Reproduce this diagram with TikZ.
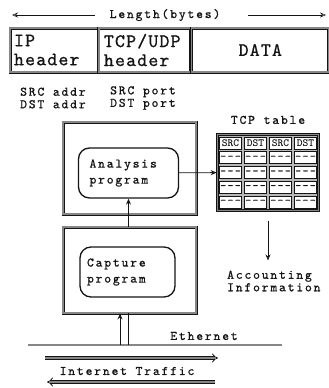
\documentclass[tikz,border=0pt]{standalone}
\usepackage{fontspec}
\newfontfamily\typer{lmmono10-regular.otf}[LetterSpace=14, FakeBold=0.8]
\newfontfamily\typewide{lmmono10-regular.otf}[LetterSpace=6, FakeBold=0.8]
\newfontfamily\typebold{lmmonolt10-bold.otf}
\usepackage{xcolor}
\definecolor{ink}{RGB}{20,20,20}
\definecolor{halftone}{RGB}{95,95,95}
\usepackage{tikz}
\usetikzlibrary{arrows.meta, positioning, fit, backgrounds}

\tikzset{
  txt/.style={inner sep=0pt, font=\typer\fontsize{13}{12.5}\selectfont, text=ink, align=left},
  frame/.style={draw=ink, line width=0.9pt, double=halftone!75, double distance=1.2pt},
  pkt/.style={frame, minimum height=44, inner ysep=0pt, font=\typewide\fontsize{19}{19}\selectfont, text=ink},
  prog/.style={draw=ink, line width=1.3pt, rounded corners=11pt, minimum height=50, align=left, font=\typer\fontsize{13}{16}\selectfont, text=ink},
  cell/.style={draw=ink, line width=0.6pt, fill=white, minimum width=22, minimum height=12, inner sep=0pt, font=\typebold\fontsize{11}{11}\selectfont, text=ink},
  openarrow/.style={draw=ink, line width=0.8pt, -{Stealth[open, length=6pt, width=5pt]}},
  traffic/.style={draw=ink, line width=0.8pt, double=halftone!75, double distance=2.2pt, -{Implies}}
}

\begin{document}
\begin{tikzpicture}[x=1pt, y=-1pt, node distance=0pt]
  \useasboundingbox (0,0) rectangle (329,388);

  % packet
  \node[txt] (len) at (165,15) {Length(bytes)};
  \coordinate (lenL) at (12,15);
  \coordinate (lenR) at (326,15);
  \draw[openarrow, line width=0.6pt] (len.west) ++(-15,0) -- (lenL);
  \draw[openarrow, line width=0.6pt] (len.east) ++(28,0) -- (lenR);

  \node[pkt, minimum width=88, text width=80, inner xsep=4, align=left] (ip) at (54,50) {IP\\header};
  \node[pkt, minimum width=92, text width=82, inner xsep=5, align=left, right=of ip] (tcpudp) {TCP/UDP\\header};
  \node[pkt, minimum width=137, right=of tcpudp] (data) {DATA};

  \node[txt, anchor=west] (addr) at (20,98) {SRC addr\\DST addr};
  \node[txt, anchor=west] (port) at (110,98) {SRC port\\DST port};

  % analysis and capture
  \node[frame, minimum width=133, minimum height=92] (anabox) at (129.5,168) {};
  \node[prog, text width=78, inner xsep=11] (ana) at (128.5,173) {Analysis\\program};
  \node[frame, minimum width=133, minimum height=86] (capbox) at (129.5,270) {};
  \node[prog, text width=81, inner xsep=7] (cap) at (127.5,272) {Capture\\program};
  \draw[openarrow] (ana.south |- capbox.north) -- (ana.south);

  % tcp table
  \foreach \c/\h in {1/SRC,2/DST,3/SRC,4/DST}{
    \node[cell] (c1\c) at ({218+(\c-0.5)*25},143) {\h};
    \foreach \r in {2,...,5}
      \node[cell, font=\typer\fontsize{11}{11}\selectfont] (c\r\c) at ({218+(\c-0.5)*25},{143+(\r-1)*14.7}) {-{}-{}-};
  }
  \begin{scope}[on background layer]
    \node[frame, fill=halftone!45, fit=(c11)(c54), inner sep=2pt] (tcptab) {};
  \end{scope}
  \node[txt, above=10pt of tcptab] (tcplbl) {TCP table};
  \draw[openarrow] (ana) -- (tcptab);

  \node[txt, anchor=west] (acct) at (227,281) {Accounting\\Information};
  \draw[openarrow, shorten <=10pt, shorten >=10pt] (tcptab.south) -- (tcptab.south |- acct.north);

  % ethernet
  \coordinate (ethL) at (28,345);
  \coordinate (ethR) at (282,345);
  \draw[draw=ink, line width=0.8pt, double=halftone!75, double distance=1.2pt] (ethL) -- (ethR);
  \node[txt] (eth) at (204,336) {Ethernet};
  \coordinate (tapA) at (120,345);
  \coordinate (tapB) at (128,345);
  \draw[openarrow] (tapA) -- (tapA |- capbox.south);
  \draw[draw=ink, line width=0.8pt] (tapB) -- (tapB |- capbox.south);

  % internet traffic
  \node[txt] (inet) at (127,371) {Internet Traffic};
  \coordinate (inR0) at (45,358);
  \coordinate (inR1) at (218,358);
  \coordinate (inL0) at (215,382);
  \coordinate (inL1) at (47,382);
  \draw[traffic] (inR0) -- (inR1);
  \draw[traffic] (inL0) -- (inL1);
\end{tikzpicture}
\end{document}
